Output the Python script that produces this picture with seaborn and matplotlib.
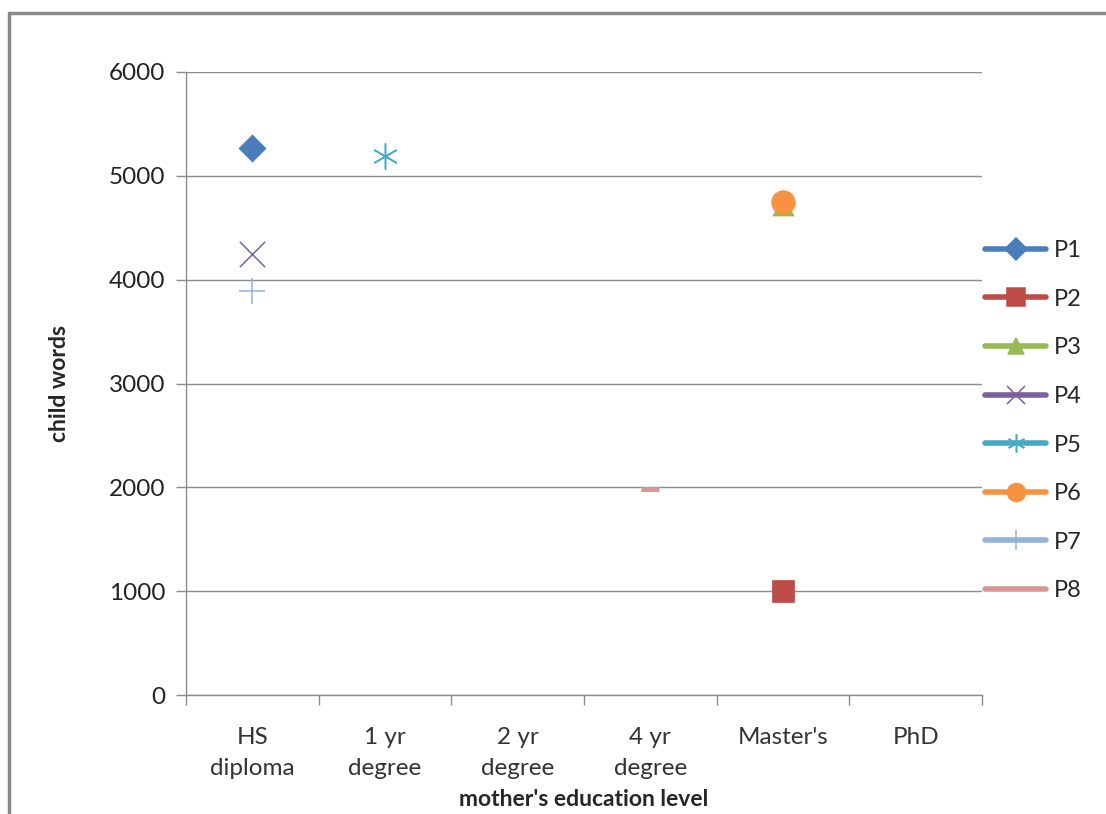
import matplotlib
matplotlib.use("Agg")
import matplotlib.pyplot as plt
from matplotlib.lines import Line2D
import seaborn as sns
import pandas as pd

categories = ["HS\ndiploma", "1 yr\ndegree", "2 yr\ndegree", "4 yr\ndegree", "Master's", "PhD"]
series_names = ["P1", "P2", "P3", "P4", "P5", "P6", "P7", "P8"]
series_category = ["HS\ndiploma", "Master's", "Master's", "HS\ndiploma", "1 yr\ndegree", "Master's", "HS\ndiploma", "4 yr\ndegree"]
series_values = [5270, 1000, 4720, 4250, 5190, 4750, 3890, 1980]
y_ticks = [0, 1000, 2000, 3000, 4000, 5000, 6000]

colors = ["#4A7EBB", "#BE4B48", "#98B954", "#7D60A0", "#46AAC5", "#F69240", "#95B3D7", "#D99694"]
markers = ["D", "s", "^", "x", (6, 2, 0), "o", "+", "_"]
sizes = [190, 260, 230, 330, 330, 290, 330, 150]
filled = [True, True, True, False, False, True, False, False]

sns.set_theme(style="white")
plt.rcParams["font.family"] = ["Lato", "DejaVu Sans"]

df = pd.DataFrame({"series": series_names,
                   "cat": series_category,
                   "value": series_values})
df["pos"] = [categories.index(c) for c in df["cat"]]

fig = plt.figure(figsize=(11.06, 8.14), dpi=100)
ax = fig.add_axes([186/1106, 1 - 695/814, (982-186)/1106, (695-72)/814])

draw_order = [2, 5, 0, 1, 3, 4, 6, 7]
for i in draw_order:
    sub = df.iloc[[i]]
    if filled[i]:
        sns.scatterplot(data=sub, x="pos", y="value", ax=ax, marker=markers[i],
                        color=colors[i], s=sizes[i], edgecolor=colors[i], linewidth=0.5,
                        legend=False, zorder=3)
    else:
        lw = 3.5 if markers[i] == "_" else 1.1
        sns.scatterplot(data=sub, x="pos", y="value", ax=ax, marker=markers[i],
                        color=colors[i], s=sizes[i], linewidth=lw,
                        legend=False, zorder=3)

ax.set_xlim(-0.5, len(categories) - 0.5)
ax.set_ylim(0, 6000)
ax.set_yticks(y_ticks)
ax.set_yticklabels([str(v) for v in y_ticks], fontsize=17.5, color="#222222")
ax.yaxis.grid(True, color="#8C8C8C", linewidth=1.0)
ax.set_axisbelow(True)
ax.set_xticks(range(len(categories)))
ax.set_xticklabels(categories, fontsize=17.5, color="#333333", linespacing=1.6)
ax.set_xticks([k - 0.5 for k in range(len(categories) + 1)], minor=True)
ax.tick_params(axis="x", which="major", length=0, pad=23)
ax.tick_params(axis="x", which="minor", length=7, color="#8C8C8C", width=1, bottom=True)
ax.tick_params(axis="y", which="major", length=7, color="#8C8C8C", width=1, left=True, pad=8)

for side in ["top", "right"]:
    ax.spines[side].set_visible(False)
for side in ["left", "bottom"]:
    ax.spines[side].set_color("#8C8C8C")
    ax.spines[side].set_linewidth(1.0)

ax.set_xlabel("mother's education level", fontsize=16.5, fontweight="bold", labelpad=7)
ax.set_ylabel("child words", fontsize=16.5, fontweight="bold", labelpad=28)

handles = []
for i, name in enumerate(series_names):
    m = markers[i]
    ms = {"D": 11, "s": 13, "^": 12, "x": 13, "o": 13, "+": 15, "_": 0}.get(m, 13) if not isinstance(m, tuple) else 13
    if m == "_":
        m = None
    handles.append(Line2D([0], [0], color=colors[i], linewidth=4, marker=m, markersize=ms,
                          markerfacecolor=colors[i], markeredgecolor=colors[i],
                          markeredgewidth=1.1, solid_capstyle="round"))
leg = fig.legend(handles, series_names, loc="upper left", bbox_to_anchor=(985/1106, 1 - 240/814),
                 frameon=False, fontsize=17, handlelength=2.6, handletextpad=0.3,
                 labelspacing=1.17, borderaxespad=0, borderpad=0)

# outer chart frame (left and top edges)
fig.add_artist(Line2D([9/1106, 9/1106], [0, 1 - 13/814], color="#8A8A8A", linewidth=2.5,
                      transform=fig.transFigure))
fig.add_artist(Line2D([9/1106, 1], [1 - 13/814, 1 - 13/814], color="#8A8A8A", linewidth=2.5,
                      transform=fig.transFigure))

fig.savefig("out.png", dpi=100, facecolor="white")
